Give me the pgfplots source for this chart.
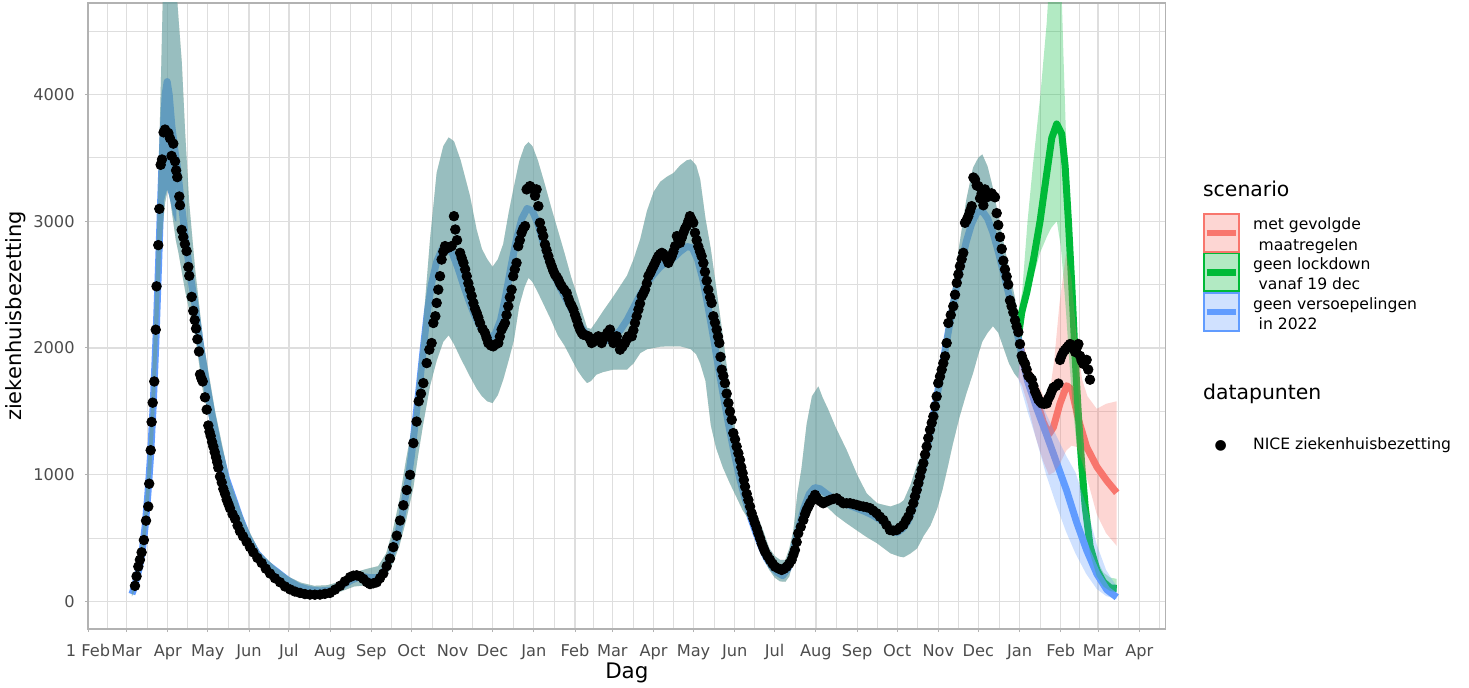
\documentclass[border=0pt]{standalone}
\usepackage{fontspec}
\setmainfont{DejaVu Sans}
\usepackage{pgfplots}
\pgfplotsset{compat=1.18}
\usepackage{pgfplotstable}
\usepgfplotslibrary{fillbetween}

\definecolor{cR}{HTML}{F8766D}
\definecolor{cG}{HTML}{00BA38}
\definecolor{cB}{HTML}{619CFF}
\definecolor{gridc}{gray}{0.87}
\definecolor{framec}{gray}{0.70}
\definecolor{tickc}{gray}{0.30}

% ---------- model band shared by all scenarios up to end of 2021 (day, lower, upper) ----------
\pgfplotstableread{
d lo hi
33 40 90
35 90 160
37 150 260
39 220 380
41 330 540
43 480 780
45 700 1080
47 960 1450
49 1300 1950
51 1750 2600
53 2250 3350
55 2800 4200
56.5 3000 4900
58 3150 5500
60 3250 5800
62 3150 5700
64 3000 5300
66 2850 4900
68 2750 4600
70.5 2600 4250
73 2450 3700
76 2300 3150
80.5 2100 2620
86.5 1650 2060
95.5 1250 1500
106.5 830 950
118 500 620
129 310 390
140 200 280
150 130 200
160 80 150
170 60 125
180 60 130
190 80 160
200 120 230
210 130 260
218 150 280
224 200 380
229 300 560
234 440 800
239 640 1120
244.5 900 1430
248 1150 1800
252 1408 2200
257 1700 2855
262 1900 3382
267 2050 3592
271 2100 3660
275 2030 3630
280 1920 3480
287 1776 3200
292 1680 2934
296 1620 2780
300 1580 2700
304 1566 2640
308 1630 2700
312 1750 2820
316 1900 3060
320 2060 3270
324 2330 3470
328 2480 3590
331 2553 3624
334 2520 3590
338 2440 3480
343 2330 3300
348 2220 3110
353 2100 2930
358 2020 2750
363 1920 2560
368 1820 2400
372 1760 2260
375 1724 2160
378 1740 2150
382 1790 2210
387 1810 2290
395 1830 2410
405 1830 2570
410 1880 2700
415 1960 2860
420 1990 3080
425 2000 3230
430 2010 3310
435 2013 3350
440 2013 3380
445 2013 3440
450 2000 3480
453 1990 3487
457 1950 3440
460 1880 3330
464 1740 3020
468 1390 2780
472 1210 2480
477 1060 2100
482 940 1690
487 830 1300
492 720 1000
497 640 810
502 480 700
507 350 570
512 250 420
516 190 360
520 160 330
524 157 330
527 200 420
530 330 560
533 470 850
536 560 1040
540 680 1400
544 790 1620
548.8 829 1697
552 790 1610
556 740 1520
562 680 1370
570 618 1197
578 560 1000
585 510 855
593 460 776
603 381 750
610 355 776
613 350 800
618 380 920
623 420 1080
628 520 1200
633 600 1400
638 730 1760
642 880 1980
646 1060 2250
650 1250 2480
655 1460 2830
660 1640 3170
665 1800 3420
669 1950 3500
672 2050 3526
676 2120 3430
680 2172 3260
684 2120 3040
688 2000 2830
692 1880 2630
696 1800 2420
699 1760 2260
}\histband

% ---------- scenario bands from 2022 on ----------
\pgfplotstableread{
d lo hi
699 1760 2260
702 1700 2020
706 1560 1900
712 1300 1750
718 1100 1620
722 1000 1600
726 1020 1900
730 1080 2350
735 1190 2750
739 1230 2550
743 1220 2050
747 1100 1750
751 960 1620
758 690 1520
765 540 1560
773 440 1580
}\redfc

\pgfplotstableread{
d lo hi
699 1760 2260
702 2150 2450
706 2375 3000
710 2550 3438
715.4 2750 3969
720.4 2875 4563
724 2950 5200
728 3000 5600
731 2800 5000
733 2550 4300
734.8 2300 3700
737 1950 3100
739.5 1600 2600
742 1330 2050
744.5 1050 1600
747 800 1180
750 560 800
753 380 520
758 200 330
763 120 230
768 85 190
773 75 180
}\greenfc

\pgfplotstableread{
d lo hi
699 1760 2260
702 1650 2000
706 1500 1860
712 1300 1680
720 1000 1480
728 750 1300
735 550 1150
742 380 1020
750 220 760
758 100 450
765 45 250
773 20 120
}\bluefc

% ---------- model medians; the blue scenario continues the fitted curve ----------
\pgfplotstableread{
d v
33 60
35 120
37 200
39 290
41 420
43 600
45 850
47 1150
49 1550
51 2050
53 2650
55 3280
56.5 3700
58 4000
59.5 4100
61 4000
63 3750
65 3580
67 3440
70 3150
73 2880
76.5 2600
80.5 2330
84 2060
88 1780
93 1480
98 1220
104 970
110 790
114 667
120 510
127 380
134 300
142 235
150 170
158 120
166 95
174 85
182 90
190 120
198 170
205 200
212 190
218 190
223 250
228 380
232 500
236 680
240 920
243 1150
246 1420
249 1700
252 2000
255 2280
258 2500
262 2680
266 2780
270 2800
274 2740
278 2630
282 2500
286 2380
290 2270
294 2180
298 2110
302 2080
306 2110
310 2220
314 2420
318 2650
322 2860
326 3020
330 3100
334 3080
338 2980
342 2830
346 2690
350 2580
355 2470
360 2370
365 2270
370 2170
375 2100
380 2060
385 2050
390 2060
395 2090
400 2140
405 2220
410 2320
415 2420
420 2510
425 2580
430 2640
435 2680
440 2710
445 2760
450 2800
454 2790
458 2700
462 2540
466 2320
470 2080
474 1830
478 1590
482 1360
486 1150
490 960
494 800
498 660
502 540
506 430
510 340
514 275
518 230
522 205
526 260
530 400
534 580
538 740
542 850
546 900
550 890
555 850
560 815
566 785
572 760
578 735
584 710
590 680
596 640
600 600
604 555
608 545
612 575
616 630
620 740
624 900
628 1080
632 1290
636 1510
640 1740
644 1980
648 2220
652 2450
656 2660
660 2840
664 2980
668 3070
672 3080
676 3020
680 2910
684 2760
688 2590
692 2420
696 2230
699 2080
703 1880
706 1740
712.7 1531
720.4 1313
727.9 1094
735.4 875
742.9 625
750.4 406
758.1 219
765.6 94
773 35
}\lineB

\pgfplotstableread{
d v
699 2080
705.4 1800
712.7 1594
717.7 1420
722 1320
725.4 1375
730.4 1563
735.4 1703
739.2 1672
744.2 1438
750.4 1219
758.1 1063
765.6 953
773 859
}\lineR

\pgfplotstableread{
d v
699 2080
701.6 2281
705.4 2438
710.3 2688
715.4 3000
720.4 3375
724.2 3656
727.9 3766
731.7 3688
734.2 3438
736.7 3000
739.2 2500
741.7 1938
744.2 1469
746.8 1063
749.3 750
753 438
758.1 250
763 156
768.1 109
773 105
}\lineG

% darker cap under the first-wave peak
\pgfplotstableread{
d lo hi
54.8 3250 3300
56 3100 3650
57.5 3180 3950
59.5 3250 4100
61 3200 4030
62.5 3130 3850
64 3050 3620
65.5 3000 3480
66.5 3000 3420
}\peakcap

% ---------- NICE hospital occupancy ----------
\pgfplotstableread{
d v
35.3 125
36.5 200
37.8 277
39 330
40.3 389
42 486
43.6 639
45.3 750
46 930
47.1 1194
47.8 1417
48.6 1569
49.8 1736
50.9 2144
51.5 2486
52.8 2811
53.6 3097
54.6 3444
55.6 3486
56.8 3700
57.9 3722
59.1 3700
60.4 3694
61.6 3653
62.8 3514
64.1 3611
65.4 3472
66.2 3400
67.1 3347
68.6 3194
69.1 3125
70.4 2931
71.6 2875
72.8 2820
74.1 2764
75.4 2639
76.1 2569
77.9 2403
79.1 2292
80.2 2220
81.2 2153
82.2 2069
83.4 1972
84.2 1792
85.2 1760
86.2 1736
87.9 1611
89.2 1514
90.4 1389
91.3 1340
92.2 1306
93.2 1260
94.2 1222
95.2 1180
96.2 1139
97.1 1100
97.9 1056
99.2 986
100.5 940
101.7 889
103 850
104.2 805
105.5 770
106.7 736
108.6 690
110.5 653
112.4 600
114.2 555
116.5 515
119.2 472
121.7 430
124.2 389
127.3 345
130.5 305
133.6 260
136.8 222
140.5 185
144.3 153
148 120
151.8 97
155.5 80
159.3 69
163 60
166.8 56
170.5 55
174.3 56
178 62
181.8 69
185.6 95
189.4 125
193 160
196.9 194
199.4 205
201.9 208
204.4 200
206.9 180
209.4 155
211.9 139
214.4 145
216.9 153
219.4 185
221.9 222
224.4 280
226.9 340
229.4 430
232 520
234.5 640
237 760
239.5 880
242 1000
244.5 1250
246.9 1420
248.5 1580
250.2 1640
252 1723
254.5 1881
256.5 1987
258.2 2039
259.5 2197
261 2250
262 2355
263.2 2460
264.5 2566
265.7 2697
267 2760
268.3 2803
270.7 2790
273.2 2803
275 3039
276 2934
277.3 2850
279.6 2750
280.8 2710
282.1 2671
283.4 2620
284.6 2566
285.8 2510
287 2460
288.3 2410
289.6 2355
290.8 2310
292.1 2276
293.3 2240
294.6 2197
296.5 2150
298.3 2118
299.5 2080
300.8 2039
302.7 2020
304.5 2013
306.4 2030
308.3 2039
309.5 2090
310.8 2145
312 2170
313.3 2197
314.5 2260
315.8 2329
317 2400
318.3 2460
319.5 2566
320.7 2620
322 2671
323.3 2803
324.5 2850
325.8 2908
327 2940
328.4 2961
329.6 3250
330.8 3260
332.1 3276
333.4 3260
334.6 3250
335.9 3200
337.1 3250
338.4 3118
339.6 2987
340.9 2930
342.1 2882
343.4 2816
344.6 2770
345.9 2724
347.2 2680
348.4 2645
349.6 2610
350.9 2579
352.2 2560
353.4 2539
354.6 2510
355.9 2487
357.8 2460
359.7 2434
361 2390
362.2 2355
363.5 2330
364.7 2303
366 2260
367.2 2224
368.4 2180
369.7 2145
371 2120
372.2 2105
374 2100
376 2092
377.2 2070
378.5 2039
379.8 2050
381 2066
382.2 2080
383.5 2092
384.8 2060
386 2039
387.2 2070
388.5 2092
390.3 2120
392.2 2145
393.5 2080
394.8 2039
396 2060
397.3 2092
398.5 2040
399.8 1987
401.6 2010
403.5 2039
404.8 2070
406.1 2092
407.3 2092
408.6 2092
409.8 2140
411 2197
412.3 2250
413.6 2303
414.8 2350
416.1 2408
417.3 2430
418.6 2460
419.9 2510
421.1 2566
422.4 2590
423.6 2618
424.9 2645
426.1 2671
427.4 2700
428.6 2724
429.9 2740
431.2 2750
432.4 2740
433.7 2724
434.9 2700
436.1 2671
437.4 2700
438.6 2724
439.9 2760
441.2 2803
442.5 2882
443.7 2850
444.9 2829
446.2 2870
447.4 2908
448.6 2940
449.8 2961
451.1 3000
452.3 3039
453.6 3010
454.8 2987
456.1 2908
457.4 2850
458.6 2800
459.9 2760
461.1 2724
462.4 2670
463.6 2600
464.9 2530
466.1 2460
467.4 2400
468.6 2355
469.9 2250
471.1 2200
472.4 2145
473.4 2090
474.4 2039
475.3 1930
476.2 1829
477.4 1780
478.6 1723
479.9 1640
481.2 1566
482.4 1500
483.7 1434
484.9 1329
486.2 1280
487.4 1223
488.7 1170
489.9 1118
490.9 1060
491.9 1013
492.8 960
493.7 907
495 850
496.2 802
497.5 750
498.7 697
500 655
501.2 618
502.5 580
503.7 539
505 500
506.2 460
507.5 425
508.7 394
510.6 360
512.5 329
514.4 300
516.2 276
518.7 262
521.2 250
523.1 260
525 276
526.9 300
528.7 329
530 370
531.2 407
532.5 470
533.7 539
535.6 590
537.5 644
538.8 690
540 723
541.3 750
542.5 776
544.4 810
546.3 842
547.5 820
548.8 802
550.7 790
552.5 776
555 790
557.6 802
560 810
562.6 815
565 795
567.6 776
570 776
572.6 776
575 770
577.6 763
580 755
582.6 750
585 745
587.6 737
590 718
592.6 697
595 670
597.6 644
600 605
602.6 565
605 560
607.7 565
610.2 585
612.7 605
614.6 640
616.4 671
618.3 720
620.2 776
621.4 830
622.7 881
624 935
625.2 987
626.4 1040
627.7 1092
629 1160
630.2 1223
631.4 1290
632.7 1355
634 1410
635.2 1460
636.4 1540
637.7 1618
638.9 1723
640.2 1776
641.5 1829
642.7 1880
644 1934
645.2 2039
646.5 2197
648.3 2260
650.2 2329
651.5 2420
652.8 2513
654 2580
655.2 2645
656.5 2700
657.7 2750
659 2987
660.3 3010
661.5 3039
662.8 3080
664 3118
665.3 3344
666.5 3329
667.8 3281
669 3276
670.3 3180
671.5 3219
672.8 3125
674 3250
675.3 3188
677.2 3200
679 3219
680.3 3200
681.5 3188
682.8 3063
684 2969
685.3 2875
686.6 2781
687.8 2688
689 2620
690.3 2563
691.5 2500
692.8 2375
694 2330
695.3 2281
696.6 2219
697.8 2170
699.1 2125
700.3 2031
701.6 1938
702.8 1900
704.1 1875
705.3 1830
706.6 1781
707.9 1765
709.2 1750
710.4 1700
711.6 1656
712.9 1625
714.1 1594
715.4 1578
716.7 1563
718.5 1560
720.4 1563
721.6 1600
722.9 1625
724.2 1660
725.4 1688
727.3 1700
729.2 1719
730.4 1906
731.6 1940
732.9 1969
734.2 1985
735.4 2000
736.6 2015
737.9 2031
739.8 2000
741.7 1969
742.9 2000
744.2 2031
745.4 1938
746.6 1900
747.9 1875
749.1 1890
750.4 1906
751.6 1830
752.9 1750
}\nice

\begin{document}
\begin{tikzpicture}
\begin{axis}[
  at={(0pt,0pt)}, anchor=south west,
  scale only axis, width=538.85pt, height=313pt,
  xmin=0, xmax=809.8, ymin=-215.2, ymax=4719.8,
  axis line style={draw=framec, line width=0.6pt},
  tick pos=left, tick align=outside,
  major tick length=1.6pt, minor tick length=0pt,
  tick style={draw=framec, line width=0.5pt},
  xtick={0,29,60,90,121,151,182,213,243,274,304,335,366,394,425,455,486,516,547,578,608,639,669,700,731,759,790},
  xticklabels={1 Feb,Mar,Apr,May,Jun,Jul,Aug,Sep,Oct,Nov,Dec,Jan,Feb,Mar,Apr,May,Jun,Jul,Aug,Sep,Oct,Nov,Dec,Jan,Feb,Mar,Apr},
  minor xtick={14.5,44.5,75,105.5,136,166.5,197.5,228,258.5,289,319.5,350.5,380,409.5,440,470.5,501,531.5,562.5,593,623.5,654,684.5,715.5,745,774.5,805},
  ytick={0,1000,2000,3000,4000},
  yticklabels={0,1000,2000,3000,4000},
  minor ytick={500,1500,2500,3500,4500},
  grid=both,
  major grid style={draw=gridc, line width=0.6pt},
  minor grid style={draw=gridc, line width=0.35pt},
  /pgf/number format/assume math mode=true,
  tick label style={font=\fontsize{8.1pt}{9.7pt}\selectfont, text=tickc, inner sep=0pt},
  x tick label style={anchor=base, yshift=-12.2pt},
  y tick label style={anchor=east, xshift=-4.9pt},
  xlabel={Dag},
  xlabel style={at={(axis description cs:0.5,0)}, anchor=base, yshift=-24.8pt, inner sep=0pt, font=\fontsize{10.7pt}{12.8pt}\selectfont},
  ylabel={ziekenhuisbezetting},
  ylabel style={at={(axis description cs:0,0.5)}, anchor=base, yshift=33pt, inner sep=0pt, font=\fontsize{10.5pt}{12.6pt}\selectfont},
]
% model medians (drawn first so the bands tint them)
\addplot[on layer=pre main, cR, line width=3.5pt, line join=round] table[x=d,y=v]{\lineR};
\addplot[on layer=pre main, cG, line width=3.5pt, line join=round] table[x=d,y=v]{\lineG};
\addplot[on layer=pre main, cB, line width=3.5pt, line join=round] table[x=d,y=v]{\lineB};

% cap under the first peak
\addplot[draw=none, name path=capU, forget plot] table[x=d,y=hi]{\peakcap};
\addplot[draw=none, name path=capL, forget plot] table[x=d,y=lo]{\peakcap};
\addplot[fill=cB, draw=none] fill between[of=capU and capL];

% uncertainty bands: identical for all scenarios up to 2022, then split
\addplot[draw=none, name path=HU, forget plot] table[x=d,y=hi]{\histband};
\addplot[draw=none, name path=HL, forget plot] table[x=d,y=lo]{\histband};
\addplot[fill=cR, fill opacity=0.3, draw=none] fill between[of=HU and HL];
\addplot[fill=cG, fill opacity=0.3, draw=none] fill between[of=HU and HL];
\addplot[fill=cB, fill opacity=0.3, draw=none] fill between[of=HU and HL];

\addplot[draw=none, name path=RU, forget plot] table[x=d,y=hi]{\redfc};
\addplot[draw=none, name path=RL, forget plot] table[x=d,y=lo]{\redfc};
\addplot[fill=cR, fill opacity=0.3, draw=none] fill between[of=RU and RL];
\addplot[draw=none, name path=GU, forget plot] table[x=d,y=hi]{\greenfc};
\addplot[draw=none, name path=GL, forget plot] table[x=d,y=lo]{\greenfc};
\addplot[fill=cG, fill opacity=0.3, draw=none] fill between[of=GU and GL];
\addplot[draw=none, name path=BU, forget plot] table[x=d,y=hi]{\bluefc};
\addplot[draw=none, name path=BL, forget plot] table[x=d,y=lo]{\bluefc};
\addplot[fill=cB, fill opacity=0.3, draw=none] fill between[of=BU and BL];

% data points
\addplot[only marks, mark=*, mark size=2.4pt, black] table[x=d,y=v]{\nice};
\end{axis}

% legend
\begin{scope}[every node/.style={inner sep=0pt, anchor=base west}]
\node[font=\fontsize{10.2pt}{12pt}\selectfont] at (557.35pt,216.15pt) {scenario};
\draw[draw=cR, fill=cR!30, line width=0.9pt] (557.8pt,188.6pt) rectangle (575.3pt,207.5pt);
\draw[cR, line width=3.3pt] (559.3pt,198.05pt) -- (573.8pt,198.05pt);
\draw[draw=cG, fill=cG!30, line width=0.9pt] (557.8pt,168.8pt) rectangle (575.3pt,187.7pt);
\draw[cG, line width=3.3pt] (559.3pt,178.25pt) -- (573.8pt,178.25pt);
\draw[draw=cB, fill=cB!30, line width=0.9pt] (557.8pt,149.0pt) rectangle (575.3pt,167.9pt);
\draw[cB, line width=3.3pt] (559.3pt,158.45pt) -- (573.8pt,158.45pt);
\begin{scope}[every node/.append style={font=\fontsize{7.8pt}{9.4pt}\selectfont}]
\node at (582.35pt,199.5pt) {met gevolgde};
\node at (585.15pt,189pt) {maatregelen};
\node at (582.35pt,179.5pt) {geen lockdown};
\node at (585.15pt,169.5pt) {vanaf 19 dec};
\node at (582.35pt,159.85pt) {geen versoepelingen};
\node at (585.15pt,149.85pt) {in 2022};
\node at (582.35pt,89.5pt) {NICE ziekenhuisbezetting};
\end{scope}
\node[font=\fontsize{10.2pt}{12pt}\selectfont] at (557.35pt,114.5pt) {datapunten};
\node[anchor=center, font=\fontsize{7pt}{8pt}\selectfont] at (566.35pt,91.5pt) {●};
\end{scope}
\path[use as bounding box] (-44pt,-29.5pt) rectangle (690.5pt,314.5pt);
\end{tikzpicture}
\end{document}
